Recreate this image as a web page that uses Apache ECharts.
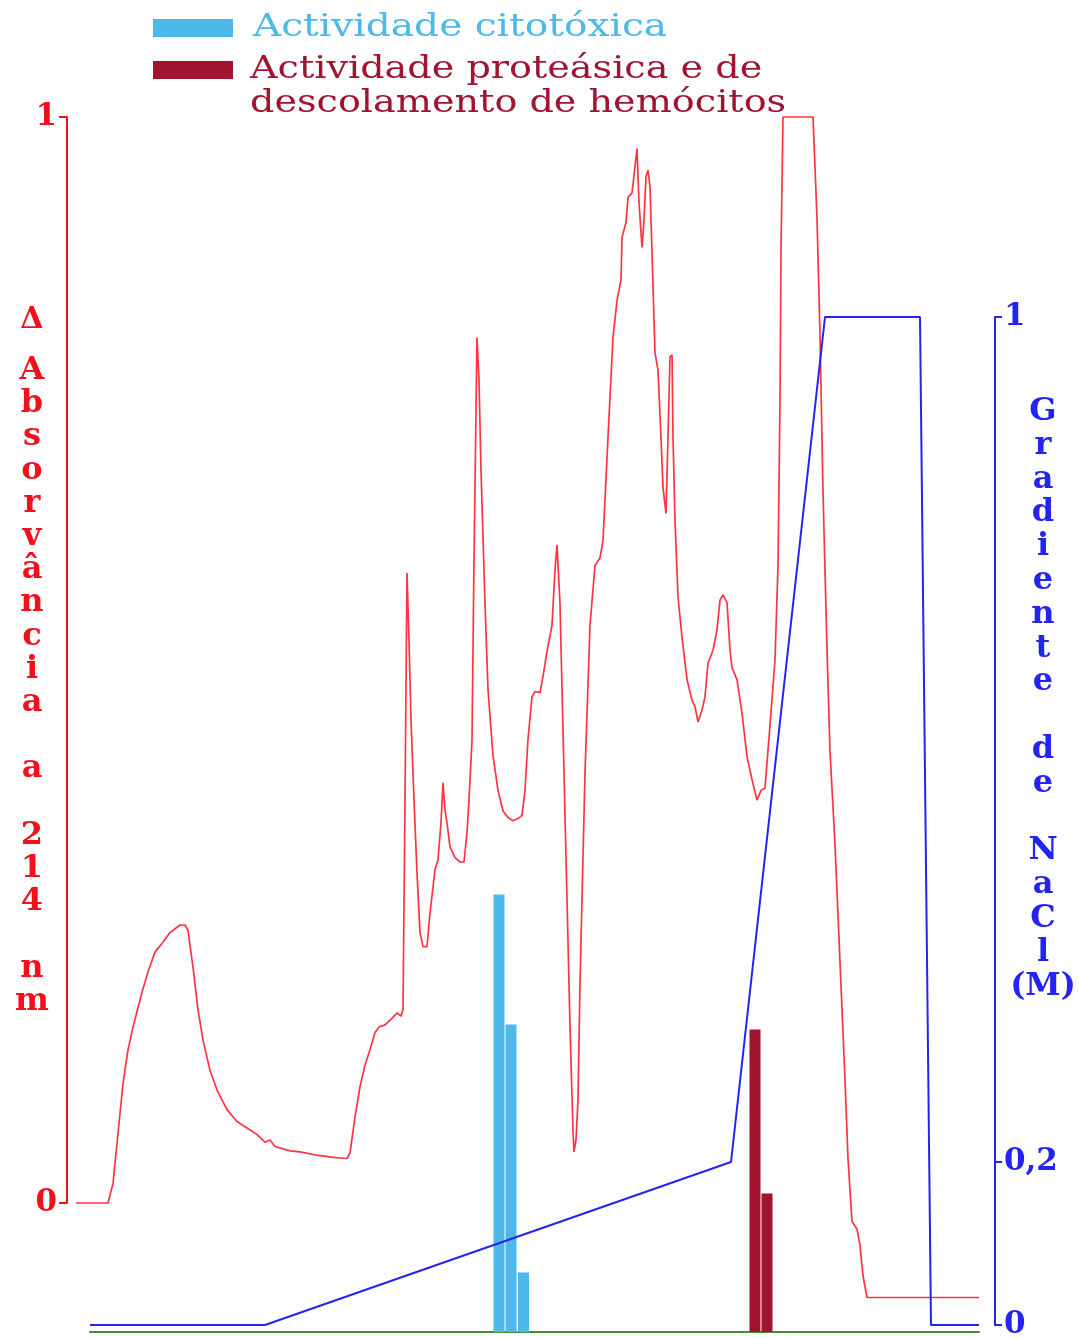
<!DOCTYPE html>
<html>
<head>
<meta charset="utf-8">
<script src="https://cdn.jsdelivr.net/npm/echarts@6/dist/echarts.min.js"></script>
<style>
  html, body { margin: 0; padding: 0; background: #ffffff; }
  #chart { width: 1079px; height: 1338px; }
</style>
</head>
<body>
<div id="chart"></div>
<script>
// Elution profile: x = elution volume (mL), y = Δ absorbance at 214 nm
const absorbance = [
  [-1.4, 0], [1.8, 0], [2.3, 0.018], [2.8, 0.064], [3.3, 0.110], [3.8, 0.141], [4.3, 0.162],
  [5.2, 0.194], [5.8, 0.213], [6.5, 0.231], [7.2, 0.239], [8.0, 0.249], [9.0, 0.256], [9.5, 0.256],
  [9.8, 0.251], [10.3, 0.217], [10.8, 0.178], [11.3, 0.150], [12.0, 0.122], [12.7, 0.104],
  [13.7, 0.086], [14.7, 0.075], [15.7, 0.069], [16.7, 0.063], [17.5, 0.056], [18.0, 0.058],
  [18.5, 0.052], [20.0, 0.048], [21.0, 0.047], [22.7, 0.044], [24.3, 0.042], [25.7, 0.041],
  [26.0, 0.046], [26.5, 0.079], [27.0, 0.107], [27.5, 0.127], [28.0, 0.141], [28.5, 0.157],
  [28.9, 0.162], [29.5, 0.164], [30.2, 0.170], [30.7, 0.175], [31.1, 0.172], [31.3, 0.178],
  [31.5, 0.371], [31.7, 0.580], [31.9, 0.518], [32.1, 0.445], [32.4, 0.371], [32.7, 0.304],
  [33.0, 0.249], [33.3, 0.236], [33.7, 0.236], [34.0, 0.267], [34.5, 0.307], [34.8, 0.316],
  [35.1, 0.350], [35.3, 0.387], [35.5, 0.362], [35.7, 0.350], [36.0, 0.328], [36.5, 0.318],
  [37.0, 0.314], [37.4, 0.314], [37.7, 0.341], [37.9, 0.371], [38.2, 0.426], [38.4, 0.592],
  [38.7, 0.797], [38.9, 0.758], [39.1, 0.675], [39.5, 0.552], [39.8, 0.473], [40.3, 0.412],
  [40.8, 0.380], [41.3, 0.361], [41.8, 0.355], [42.3, 0.352], [42.8, 0.354], [43.2, 0.357],
  [43.5, 0.380], [43.8, 0.427], [44.2, 0.466], [44.5, 0.471], [45.0, 0.470], [45.3, 0.485],
  [45.7, 0.508], [46.2, 0.532], [46.5, 0.583], [46.7, 0.606], [47.0, 0.552], [47.3, 0.435],
  [47.7, 0.280], [48.0, 0.163], [48.3, 0.067], [48.4, 0.047], [48.6, 0.058], [48.8, 0.095],
  [49.0, 0.202], [49.5, 0.396], [50.0, 0.532], [50.5, 0.587], [51.0, 0.594], [51.3, 0.610],
  [51.8, 0.705], [52.3, 0.797], [52.7, 0.831], [53.1, 0.850], [53.2, 0.889], [53.6, 0.903],
  [53.8, 0.926], [54.2, 0.930], [54.4, 0.930], [54.7, 0.971], [54.9, 0.921], [55.2, 0.880],
  [55.4, 0.905], [55.6, 0.945], [55.8, 0.951], [56.0, 0.936], [56.2, 0.875], [56.5, 0.783],
  [56.8, 0.767], [57.1, 0.705], [57.3, 0.659], [57.6, 0.635], [57.8, 0.705], [58.0, 0.779],
  [58.2, 0.781], [58.3, 0.705], [58.5, 0.629], [58.8, 0.558], [59.2, 0.521], [59.7, 0.482],
  [60.2, 0.463], [60.5, 0.457], [60.8, 0.443], [61.2, 0.454], [61.5, 0.466], [61.8, 0.497],
  [62.3, 0.509], [62.7, 0.528], [63.0, 0.555], [63.3, 0.560], [63.7, 0.553], [64.0, 0.509],
  [64.2, 0.493], [64.7, 0.482], [65.2, 0.451], [65.7, 0.411], [66.2, 0.390], [66.7, 0.371],
  [67.1, 0.380], [67.5, 0.382], [68.0, 0.440], [68.5, 0.500], [68.8, 0.587], [69.0, 0.739],
  [69.1, 0.878], [69.3, 1.0], [72.3, 1.0], [72.7, 0.907], [73.0, 0.799], [73.3, 0.655],
  [73.7, 0.510], [74.0, 0.416], [74.5, 0.330], [75.0, 0.222], [75.5, 0.113], [75.8, 0.041],
  [76.2, -0.017], [76.7, -0.024], [77.0, -0.039], [77.3, -0.067], [77.7, -0.087], [88.9, -0.087]
];

// NaCl gradient programme: [volume (mL), concentration (M)]
const naclGradient = [
  [0, 0], [17.5, 0], [64.1, 0.2], [73.5, 1], [83.0, 1], [84.1, 0], [88.9, 0]
];

// Activity assays per fraction: [volume (mL), relative activity]
const cytotoxicActivity = [[40.9, 36.0], [42.1, 25.3], [43.35, 4.9]];
const proteaseActivity = [[66.5, 24.9], [67.7, 11.4]];

const absorbanceTicks = [0, 1];
const naclTicks = [0, 0.2, 1];
const naclTickLabels = ['0', '0,2', '1'];

const cytotoxicName = 'Actividade citotóxica';
const proteaseName = 'Actividade proteásica e de\ndescolamento de hemócitos';
const absorbanceTitle = ['Δ', 'Absorvância a 214 nm'];
const naclTitle = ['Gradiente de NaCl', '(M)'];

// Colours
const RED_AXIS = '#f3101d';
const RED_LINE = '#ff3442';
const BLUE = '#2323f2';
const CYAN = '#4db8ea';
const WINE = '#a01430';
const GREEN = '#4c8a3c';
const SERIF = '"DejaVu Serif", "Liberation Serif", serif';

// The NaCl axis is drawn broken: 0–0.2 M takes the lower 16 % of its height.
const NACL_BREAK = 0.2;
const BREAK_POS = 0.1617;
function naclToAxis(m) {
  return m <= NACL_BREAK
    ? (m / NACL_BREAK) * BREAK_POS
    : BREAK_POS + ((m - NACL_BREAK) / (1 - NACL_BREAK)) * (1 - BREAK_POS);
}
const naclAxisValues = naclTicks.map(naclToAxis);

// All grids share one volume scale (10 px per mL); the absorbance grid
// starts 1.4 mL earlier so its baseline reaches towards the left axis.
const X_MIN = 0, X_MAX = 88.9, ABS_X_MIN = -1.4;

const chart = echarts.init(document.getElementById('chart'), null, { renderer: 'canvas' });

const option = {
  animation: false,
  backgroundColor: '#ffffff',
  grid: [
    { left: 76, right: 100, top: 117, bottom: 135, outerBoundsMode: 'none' },
    { left: 90, right: 100, top: 317, bottom: 13, outerBoundsMode: 'none' },
    { left: 90, right: 100, top: 117, bottom: 6, outerBoundsMode: 'none' }
  ],
  xAxis: [
    { type: 'value', gridIndex: 0, min: ABS_X_MIN, max: X_MAX, show: false },
    { type: 'value', gridIndex: 1, min: X_MIN, max: X_MAX, show: false },
    {
      type: 'value', gridIndex: 2, min: X_MIN, max: X_MAX,
      axisLine: { show: true, onZero: false, lineStyle: { color: GREEN, width: 2 } },
      axisTick: { show: false }, axisLabel: { show: false }, splitLine: { show: false }
    }
  ],
  yAxis: [
    {
      type: 'value', gridIndex: 0, position: 'left', offset: 9,
      min: 0, max: 1, interval: 1,
      axisLine: { show: true, onZero: false, lineStyle: { color: RED_AXIS, width: 2 } },
      axisTick: { show: true, length: 8, lineStyle: { color: RED_AXIS, width: 2 } },
      axisLabel: {
        margin: 10, color: RED_AXIS, fontFamily: SERIF, fontWeight: 'bold', fontSize: 31,
        formatter: (v) => absorbanceTicks.includes(v) ? String(v) : ''
      },
      splitLine: { show: false }
    },
    {
      type: 'value', gridIndex: 1, position: 'right', offset: 16,
      min: 0, max: 1,
      axisLine: { show: true, onZero: false, lineStyle: { color: BLUE, width: 2 } },
      axisTick: { show: true, length: 7, customValues: naclAxisValues, lineStyle: { color: BLUE, width: 2 } },
      axisLabel: {
        margin: 9, color: BLUE, fontFamily: SERIF, fontWeight: 'bold', fontSize: 31,
        customValues: naclAxisValues,
        formatter: (v) => {
          let best = 0;
          naclAxisValues.forEach((a, i) => { if (Math.abs(a - v) < Math.abs(naclAxisValues[best] - v)) best = i; });
          return naclTickLabels[best];
        }
      },
      splitLine: { show: false }
    },
    {
      type: 'value', gridIndex: 2, min: 0, max: 100, show: false
    }
  ],
  series: [
    {
      name: cytotoxicName, type: 'bar', xAxisIndex: 2, yAxisIndex: 2,
      barWidth: 11, barGap: '-100%', z: 2,
      itemStyle: { color: CYAN },
      data: cytotoxicActivity
    },
    {
      name: proteaseName, type: 'bar', xAxisIndex: 2, yAxisIndex: 2,
      barWidth: 11, barGap: '-100%', z: 2,
      itemStyle: { color: WINE },
      data: proteaseActivity
    },
    {
      name: 'Absorvância', type: 'line', xAxisIndex: 0, yAxisIndex: 0,
      showSymbol: false, clip: false, z: 3,
      lineStyle: { color: RED_LINE, width: 1.7 },
      data: absorbance
    },
    {
      name: 'NaCl', type: 'line', xAxisIndex: 1, yAxisIndex: 1,
      showSymbol: false, clip: false, z: 4,
      lineStyle: { color: BLUE, width: 2 },
      data: naclGradient.map(([v, m]) => [v, naclToAxis(m)])
    }
  ],
  graphic: [
    // legend swatches and labels
    { type: 'rect', left: 153, top: 19, shape: { width: 80, height: 18 }, style: { fill: CYAN } },
    { type: 'rect', left: 153, top: 61, shape: { width: 80, height: 18 }, style: { fill: WINE } },
    {
      type: 'text', x: 253, y: 28, scaleX: 1.26,
      style: { text: cytotoxicName, fill: CYAN, font: '31px ' + SERIF, textAlign: 'left', textVerticalAlign: 'middle' }
    },
    {
      type: 'text', x: 250, y: 87, scaleX: 1.23,
      style: { text: proteaseName, fill: WINE, font: '31px ' + SERIF, lineHeight: 34, textAlign: 'left', textVerticalAlign: 'middle' }
    },
    // stacked axis titles
    {
      type: 'text', x: 32, y: 320,
      style: { text: absorbanceTitle[0], fill: RED_AXIS, font: 'bold 30px ' + SERIF, textAlign: 'center', textVerticalAlign: 'middle' }
    },
    {
      type: 'text', x: 32, y: 686,
      style: {
        text: [...absorbanceTitle[1]].join('\n'), fill: RED_AXIS, font: 'bold 32px ' + SERIF,
        lineHeight: 33.2, textAlign: 'center', textVerticalAlign: 'middle'
      }
    },
    {
      type: 'text', x: 1043, y: 699,
      style: {
        text: [...naclTitle[0]].concat([naclTitle[1]]).join('\n'), fill: BLUE, font: 'bold 32px ' + SERIF,
        lineHeight: 33.8, textAlign: 'center', textVerticalAlign: 'middle'
      }
    }
  ]
};

chart.setOption(option);
</script>
</body>
</html>
